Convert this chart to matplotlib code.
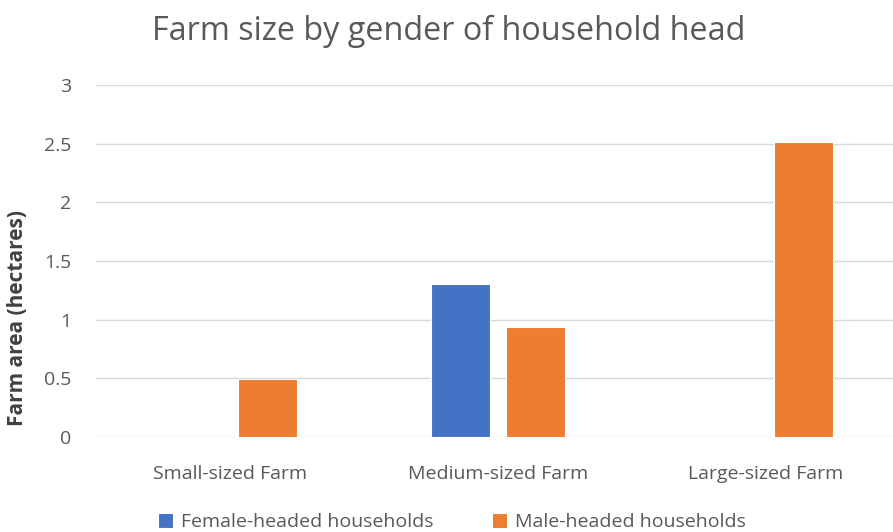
import numpy as np
import matplotlib.pyplot as plt

# data
categories = ['Small-sized Farm', 'Medium-sized Farm', 'Large-sized Farm']
female = [0, 1.3, 0]
male = [0.49, 0.94, 2.51]
series_names = ['Female-headed households', 'Male-headed households']

plt.rcParams['font.family'] = ['Open Sans', 'DejaVu Sans']

fig = plt.figure(figsize=(8.93, 5.32), dpi=100)
ax = fig.add_axes([96/893, 0.1786, 804/893, 0.6617])

x = np.arange(len(categories))
w = 0.22
off = 0.14
ax.bar(x - off, female, w, color='#4472c4', edgecolor='white', linewidth=0.8,
       label=series_names[0], zorder=3)
ax.bar(x + off, male, w, color='#ed7d31', edgecolor='white', linewidth=0.8,
       label=series_names[1], zorder=3)

ax.set_xlim(-0.5, 2.5)
ax.set_ylim(0, 3)
ax.set_yticks(np.arange(0, 3.01, 0.5))
ax.set_yticklabels(['0', '0.5', '1', '1.5', '2', '2.5', '3'])
ax.set_xticks(x)
ax.set_xticklabels(categories)
ax.grid(axis='y', color='#d9d9d9', linewidth=1, zorder=0)
for s in ax.spines.values():
    s.set_visible(False)
ax.tick_params(axis='both', length=0, labelsize=14, colors='#595959')
ax.tick_params(axis='y', pad=18)
ax.tick_params(axis='x', pad=20)

ax.set_ylabel('Farm area (hectares)', fontsize=15, fontweight='bold', color='#404040')
ax.yaxis.set_label_coords(-68/804, 0.338)

fig.text(0.502, 1 - 31/532, 'Farm size by gender of household head', ha='center', va='center',
         fontsize=23.3, color='#595959')

fig.legend(loc='center', bbox_to_anchor=(0.506, 10/532), ncol=2, frameon=False,
           fontsize=14, labelcolor='#595959', handlelength=0.8, handleheight=0.8,
           handletextpad=0.4, columnspacing=3.0)

fig.savefig('out.png', dpi=100)
